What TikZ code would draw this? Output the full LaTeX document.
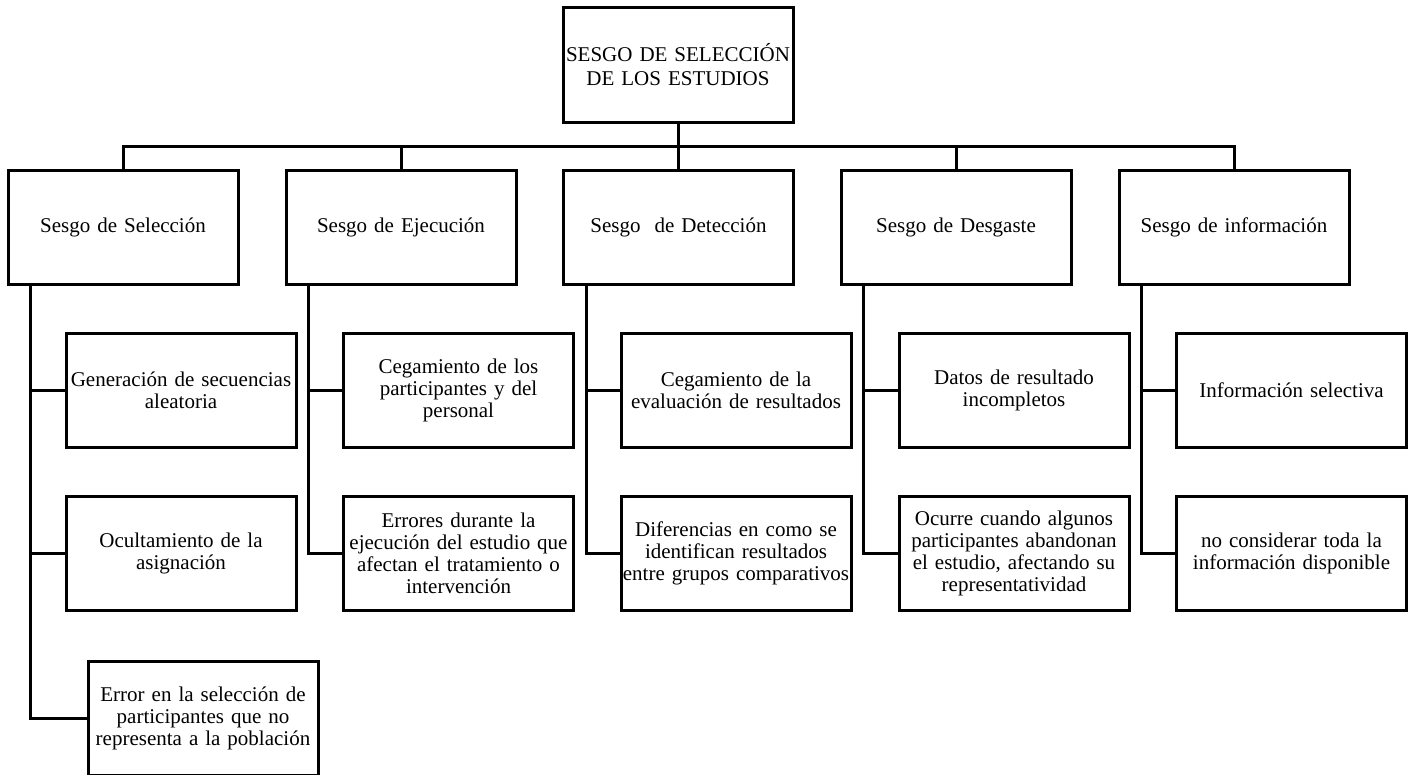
\documentclass[tikz,border=0pt]{standalone}
\usepackage{fontspec}
\setmainfont{Liberation Serif}
\usepackage{tikz}

\begin{document}
\begin{tikzpicture}[x=1pt,y=-1pt,
        caja/.style={draw=black,line width=3pt,minimum width=230pt,minimum height=114pt,text width=230pt,inner sep=0pt,align=center,font=\fontsize{21}{22}\selectfont},
        linea/.style={black,line width=3pt}]
            \useasboundingbox (0,0) rectangle (1412,774);
            \node[caja,minimum height=115pt,font=\fontsize{21}{24}\selectfont] (top) at (678,64.5){SESGO DE SELECCIÓN\\DE LOS ESTUDIOS};
            % tipos de sesgo
            \node[caja] (sel) at (123,227.5){Sesgo de Selección};
            \node[caja] (eje) at (401,227.5){Sesgo de Ejecución};
            \node[caja] (det) at (678.5,227.5){Sesgo\ \ de Detección};
            \node[caja] (des) at (956,227.5){Sesgo de Desgaste};
            \node[caja] (inf) at (1234,227.5){Sesgo de información};
            % dominios
            \node[caja] (sel1) at (181,390.5){Generación de secuencias\\aleatoria};
            \node[caja] (sel2) at (181,553.5){Ocultamiento de la\\asignación};
            \node[caja] (sel3) at (203,718){Error en la selección de\\participantes que no\\representa a la población};
            \node[caja] (eje1) at (458.5,390.5){Cegamiento de los\\participantes y del\\personal};
            \node[caja] (eje2) at (458.5,553.5){Errores durante la\\ejecución del estudio que\\afectan el tratamiento o\\intervención};
            \node[caja] (det1) at (736,390.5){Cegamiento de la\\evaluación de resultados};
            \node[caja] (det2) at (736,553.5){Diferencias en como se\\identifican resultados\\entre grupos comparativos};
            \node[caja] (des1) at (1014,390.5){Datos de resultado\\incompletos};
            \node[caja] (des2) at (1014,553.5){Ocurre cuando algunos\\participantes abandonan\\el estudio, afectando su\\representatividad};
            \node[caja] (inf1) at (1291.5,390.5){Información selectiva};
            \node[caja] (inf2) at (1291.5,553.5){no considerar toda la\\información disponible};
            % conexiones
            \coordinate (bus) at (0,146);
            \foreach \c in {sel,eje,det,des,inf}
                \draw[linea] (top.south) -- (top.south |- bus) -| (\c.north);
            \foreach \c/\h in {sel/sel1,sel/sel2,sel/sel3,eje/eje1,eje/eje2,det/det1,det/det2,des/des1,des/des2,inf/inf1,inf/inf2}
                \draw[linea] ([xshift=24pt]\c.south west) |- (\h.west);
        \end{tikzpicture}
\end{document}
